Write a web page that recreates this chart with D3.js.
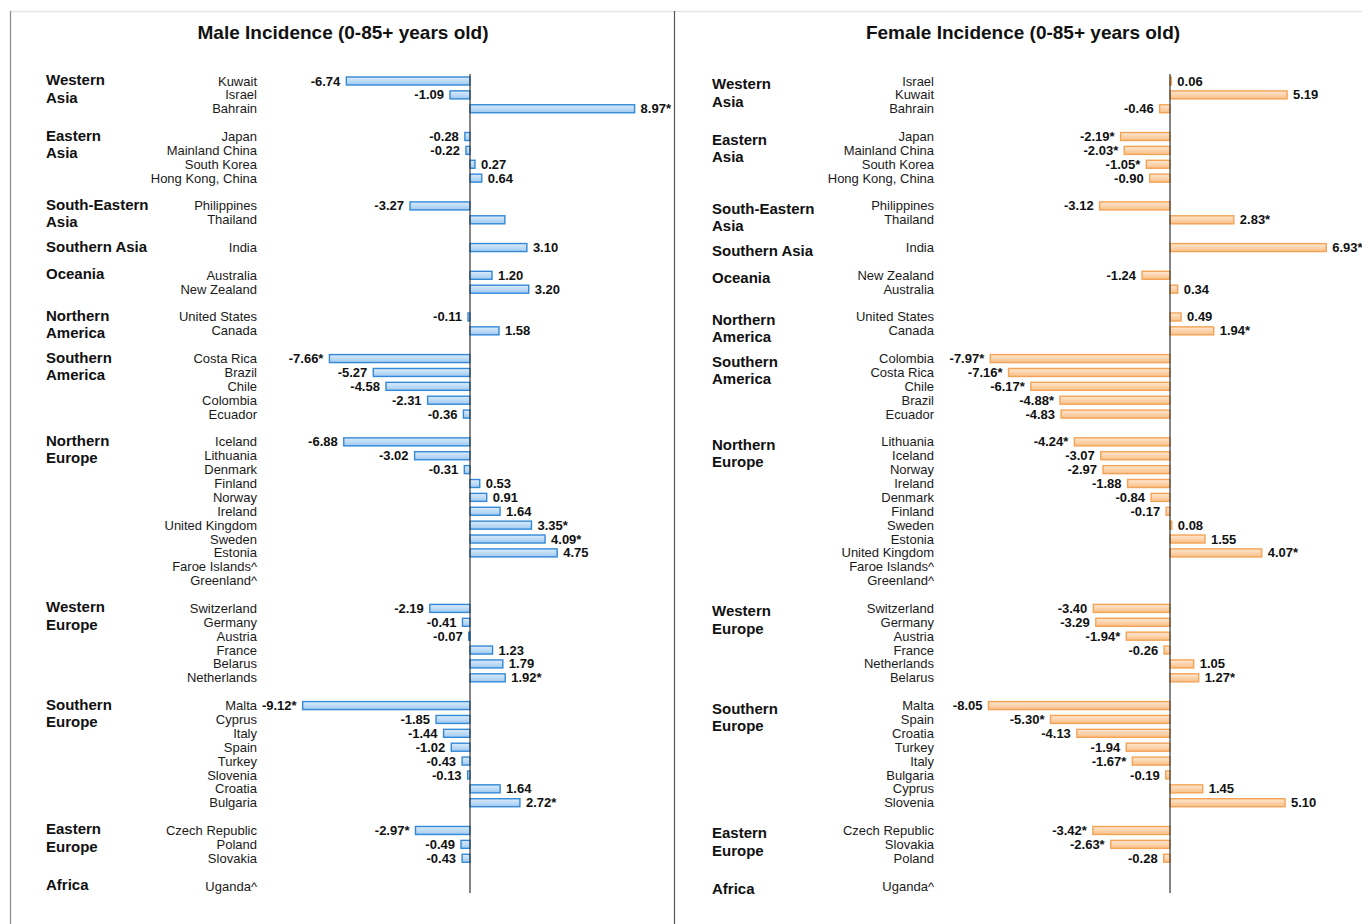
<!DOCTYPE html>
<html>
<head>
<meta charset="utf-8">
<script src="https://cdn.jsdelivr.net/npm/d3@7"></script>
<style>
  html, body { margin: 0; padding: 0; background: #fff; }
  svg { display: block; font-family: "Liberation Sans", Arial, Helvetica, sans-serif; }
</style>
</head>
<body>
<svg id="chart" width="1362" height="924"></svg>
<script>
// Region groups (line breaks mark two-line labels) and how many countries each holds
const regions = ["Western\nAsia", "Eastern\nAsia", "South-Eastern\nAsia", "Southern Asia", "Oceania",
  "Northern\nAmerica", "Southern\nAmerica", "Northern\nEurope", "Western\nEurope",
  "Southern\nEurope", "Eastern\nEurope", "Africa"];
const regionSizes = [3, 4, 2, 1, 2, 2, 5, 11, 6, 8, 3, 1];

// Male incidence: countries, values (null = no estimate), significance marks
const maleCountries = ["Kuwait", "Israel", "Bahrain",
  "Japan", "Mainland China", "South Korea", "Hong Kong, China",
  "Philippines", "Thailand",
  "India",
  "Australia", "New Zealand",
  "United States", "Canada",
  "Costa Rica", "Brazil", "Chile", "Colombia", "Ecuador",
  "Iceland", "Lithuania", "Denmark", "Finland", "Norway", "Ireland", "United Kingdom", "Sweden", "Estonia", "Faroe Islands^", "Greenland^",
  "Switzerland", "Germany", "Austria", "France", "Belarus", "Netherlands",
  "Malta", "Cyprus", "Italy", "Spain", "Turkey", "Slovenia", "Croatia", "Bulgaria",
  "Czech Republic", "Poland", "Slovakia",
  "Uganda^"];
const maleValues = [-6.74, -1.09, 8.97,
  -0.28, -0.22, 0.27, 0.64,
  -3.27, 1.9,
  3.10,
  1.20, 3.20,
  -0.11, 1.58,
  -7.66, -5.27, -4.58, -2.31, -0.36,
  -6.88, -3.02, -0.31, 0.53, 0.91, 1.64, 3.35, 4.09, 4.75, null, null,
  -2.19, -0.41, -0.07, 1.23, 1.79, 1.92,
  -9.12, -1.85, -1.44, -1.02, -0.43, -0.13, 1.64, 2.72,
  -2.97, -0.49, -0.43,
  null];
const maleMarks = ["", "", "*",
  "", "", "", "",
  "", "",
  "",
  "", "",
  "", "",
  "*", "", "", "", "",
  "", "", "", "", "", "", "*", "*", "", "", "",
  "", "", "", "", "", "*",
  "*", "", "", "", "", "", "", "*",
  "*", "", "",
  ""];
const maleUnlabelled = ["Thailand"];

// Female incidence
const femaleCountries = ["Israel", "Kuwait", "Bahrain",
  "Japan", "Mainland China", "South Korea", "Hong Kong, China",
  "Philippines", "Thailand",
  "India",
  "New Zealand", "Australia",
  "United States", "Canada",
  "Colombia", "Costa Rica", "Chile", "Brazil", "Ecuador",
  "Lithuania", "Iceland", "Norway", "Ireland", "Denmark", "Finland", "Sweden", "Estonia", "United Kingdom", "Faroe Islands^", "Greenland^",
  "Switzerland", "Germany", "Austria", "France", "Netherlands", "Belarus",
  "Malta", "Spain", "Croatia", "Turkey", "Italy", "Bulgaria", "Cyprus", "Slovenia",
  "Czech Republic", "Slovakia", "Poland",
  "Uganda^"];
const femaleValues = [0.06, 5.19, -0.46,
  -2.19, -2.03, -1.05, -0.90,
  -3.12, 2.83,
  6.93,
  -1.24, 0.34,
  0.49, 1.94,
  -7.97, -7.16, -6.17, -4.88, -4.83,
  -4.24, -3.07, -2.97, -1.88, -0.84, -0.17, 0.08, 1.55, 4.07, null, null,
  -3.40, -3.29, -1.94, -0.26, 1.05, 1.27,
  -8.05, -5.30, -4.13, -1.94, -1.67, -0.19, 1.45, 5.10,
  -3.42, -2.63, -0.28,
  null];
const femaleMarks = ["", "", "",
  "*", "*", "*", "",
  "", "*",
  "*",
  "", "",
  "", "*",
  "*", "*", "*", "*", "",
  "*", "", "", "", "", "", "", "", "*", "", "",
  "", "", "*", "", "", "*",
  "", "*", "", "", "*", "", "", "",
  "*", "*", "",
  ""];
const femaleUnlabelled = [];

const svg = d3.select("#chart");
const FONT_INK = "#111";

// Bar gradients
const defs = svg.append("defs");
function gradient(id, top, bottom) {
  const g = defs.append("linearGradient").attr("id", id)
    .attr("x1", 0).attr("y1", 0).attr("x2", 0).attr("y2", 1);
  g.append("stop").attr("offset", "0%").attr("stop-color", top);
  g.append("stop").attr("offset", "100%").attr("stop-color", bottom);
}
gradient("gradMale", "#dcecfb", "#9fcaf1");
gradient("gradFemale", "#fee8d2", "#f9bf86");

// Frame lines
svg.append("line").attr("x1", 10).attr("x2", 1362).attr("y1", 11.5).attr("y2", 11.5)
  .attr("stroke", "#e4e4e4").attr("stroke-width", 1.5);
svg.append("line").attr("x1", 10.5).attr("x2", 10.5).attr("y1", 11).attr("y2", 924)
  .attr("stroke", "#8a8a8a").attr("stroke-width", 1.2);
svg.append("line").attr("x1", 674.5).attr("x2", 674.5).attr("y1", 11).attr("y2", 924)
  .attr("stroke", "#555").attr("stroke-width", 1.2);

// Row layout: each region's countries followed by a blank spacer row
const rowIndex = [];        // row position of each country
const regionStart = [];     // row position of each region's first country
{
  let r = 0;
  regionSizes.forEach((n, gi) => {
    regionStart.push(r);
    for (let k = 0; k < n; k++) rowIndex.push(r++);
    if (gi < regionSizes.length - 1) r++;
  });
}
const nRows = rowIndex[rowIndex.length - 1] + 1;
const y = d3.scalePoint().domain(d3.range(nRows)).range([81, 886]);

// Plain hyphen-minus, two decimals
const fmt = v => v.toFixed(2);

function drawPanel(opts) {
  const g = svg.append("g");
  const x = d3.scaleLinear().domain(opts.domain).range(opts.range);

  g.append("text")
    .attr("x", opts.titleX).attr("y", 39)
    .attr("text-anchor", "middle")
    .attr("font-size", 19).attr("font-weight", "bold").attr("fill", FONT_INK)
    .text(opts.title);

  // Region labels
  regions.forEach((name, gi) => {
    const lines = name.split("\n");
    const t = g.append("text")
      .attr("x", opts.regionX)
      .attr("y", y(regionStart[gi]) + opts.regionDy)
      .attr("font-size", 15).attr("font-weight", "bold").attr("fill", FONT_INK)
      .attr("dominant-baseline", "central");
    lines.forEach((ln, li) => {
      t.append("tspan").attr("x", opts.regionX)
        .attr("dy", li === 0 ? 0 : 17.5).text(ln);
    });
  });

  const rows = opts.countries.map((c, i) => ({
    country: c, value: opts.values[i], mark: opts.marks[i], row: rowIndex[i]
  }));

  // Country names
  g.selectAll("text.country").data(rows).join("text")
    .attr("class", "country")
    .attr("x", opts.countryX).attr("y", d => y(d.row))
    .attr("dy", "0.35em")
    .attr("text-anchor", "end")
    .attr("font-size", 13).attr("fill", "#1a1a1a")
    .text(d => d.country);

  const withData = rows.filter(d => d.value !== null);
  const barH = 8;

  g.selectAll("rect.bar").data(withData).join("rect")
    .attr("class", "bar")
    .attr("x", d => x(Math.min(0, d.value)))
    .attr("width", d => Math.max(1.2, Math.abs(x(d.value) - x(0))))
    .attr("y", d => y(d.row) - barH / 2)
    .attr("height", barH)
    .attr("fill", opts.fill)
    .attr("stroke", opts.stroke).attr("stroke-width", 1.4);

  // Axis at zero
  g.append("line")
    .attr("x1", x(0)).attr("x2", x(0))
    .attr("y1", y(0) - 7).attr("y2", y(nRows - 1) + 7)
    .attr("stroke", "#333").attr("stroke-width", 1.2);

  // Value labels
  g.selectAll("text.value").data(withData.filter(d => !opts.unlabelled.includes(d.country)))
    .join("text")
    .attr("class", "value")
    .attr("x", d => d.value >= 0 ? x(d.value) + 6 : x(d.value) - 6)
    .attr("y", d => y(d.row))
    .attr("dy", "0.35em")
    .attr("text-anchor", d => d.value >= 0 ? "start" : "end")
    .attr("font-size", 13).attr("font-weight", "bold").attr("fill", FONT_INK)
    .text(d => fmt(d.value) + d.mark);
}

drawPanel({
  title: "Male Incidence (0-85+ years old)",
  titleX: 343,
  countries: maleCountries, values: maleValues, marks: maleMarks, unlabelled: maleUnlabelled,
  domain: [-10, 10], range: [286.5, 653.5],
  regionX: 46, regionDy: -2, countryX: 257,
  fill: "url(#gradMale)", stroke: "#3389d6"
});

drawPanel({
  title: "Female Incidence (0-85+ years old)",
  titleX: 1023,
  countries: femaleCountries, values: femaleValues, marks: femaleMarks, unlabelled: femaleUnlabelled,
  domain: [-8, 8], range: [989.6, 1350.4],
  regionX: 712, regionDy: 2, countryX: 934,
  fill: "url(#gradFemale)", stroke: "#f4a356"
});
</script>
</body>
</html>
